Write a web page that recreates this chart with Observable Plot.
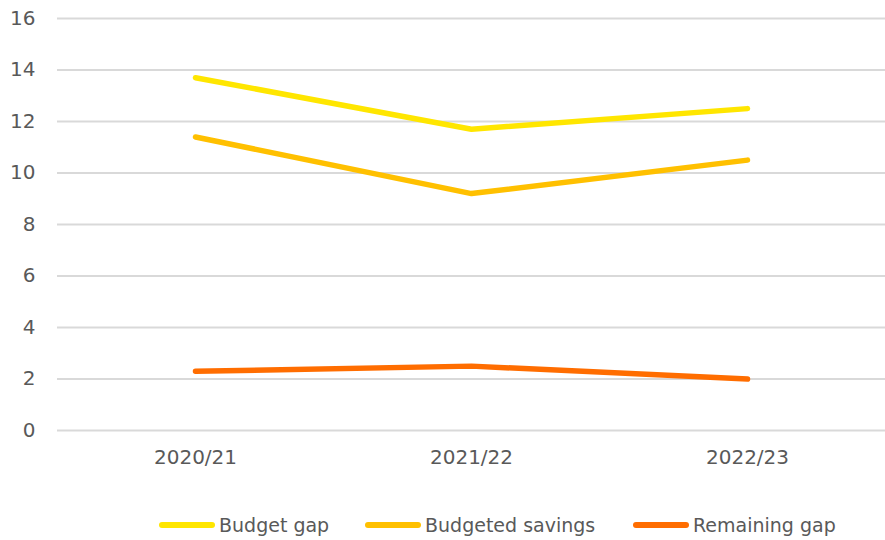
<!DOCTYPE html>
<html>
<head>
<meta charset="utf-8">
<script src="https://cdn.jsdelivr.net/npm/d3@7"></script>
<script src="https://cdn.jsdelivr.net/npm/@observablehq/plot@0.6"></script>
<style>
  html, body { margin: 0; padding: 0; background: #fff; }
  body { width: 885px; height: 540px; overflow: hidden; font-family: "DejaVu Sans", sans-serif; }
  #legend { position: relative; height: 50px; font-size: 19px; color: #595959; }
  .item { position: absolute; top: 24px; display: flex; align-items: center; white-space: nowrap; }
  .swatch { width: 56px; height: 6px; border-radius: 3px; margin-right: 4px; }
</style>
</head>
<body>
<div id="chart"></div>
<div id="legend"></div>
<script>
const years = ["2020/21", "2021/22", "2022/23"];
const seriesNames = ["Budget gap", "Budgeted savings", "Remaining gap"];
const budgetGap = [13.7, 11.7, 12.5];
const budgetedSavings = [11.4, 9.2, 10.5];
const remainingGap = [2.3, 2.5, 2.0];
const yTicks = [0, 2, 4, 6, 8, 10, 12, 14, 16];
const colors = ["#FFE600", "#FFC000", "#FF6D00"];

const valuesBySeries = [budgetGap, budgetedSavings, remainingGap];
const data = [];
seriesNames.forEach((s, i) => years.forEach((y, j) => data.push({series: s, year: y, value: valuesBySeries[i][j]})));

const chart = Plot.plot({
  width: 885,
  height: 490,
  marginLeft: 57,
  marginRight: 0,
  marginTop: 18,
  marginBottom: 60,
  style: {fontFamily: "DejaVu Sans, sans-serif", fontSize: "20px", color: "#595959", background: "#fff"},
  x: {type: "point", domain: years, padding: 0.5, label: null},
  y: {domain: [0, 16], label: null},
  color: {domain: seriesNames, range: colors},
  marks: [
    Plot.ruleY(yTicks, {stroke: "#d9d9d9", strokeWidth: 2}),
    Plot.axisY({ticks: yTicks, tickSize: 0, tickPadding: 22, label: null, fill: "#595959"}),
    Plot.axisX({tickSize: 0, tickPadding: 19, label: null, fill: "#595959"}),
    Plot.line(data, {x: "year", y: "value", z: "series", stroke: "series", strokeWidth: 5.5, strokeLinecap: "round", strokeLinejoin: "round"})
  ]
});
document.getElementById("chart").appendChild(chart);

const legend = document.getElementById("legend");
const lefts = [159, 365, 633];
seriesNames.forEach((s, i) => {
  const item = document.createElement("div");
  item.className = "item";
  item.style.left = lefts[i] + "px";
  const sw = document.createElement("span");
  sw.className = "swatch";
  sw.style.background = colors[i];
  const t = document.createElement("span");
  t.textContent = s;
  item.appendChild(sw);
  item.appendChild(t);
  legend.appendChild(item);
});
</script>
</body>
</html>
